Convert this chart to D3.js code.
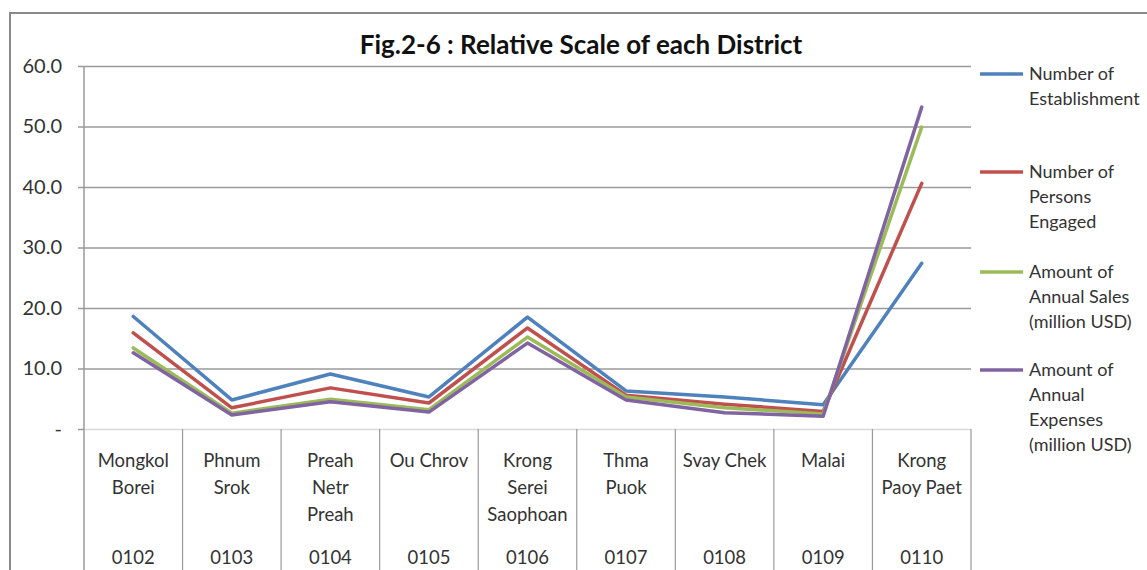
<!DOCTYPE html>
<html>
<head>
<meta charset="utf-8">
<script src="https://cdn.jsdelivr.net/npm/d3@7"></script>
<style>
  body { margin: 0; background: #fff; }
  text { font-family: Lato, "Open Sans", sans-serif; }
</style>
</head>
<body>
<svg id="chart" width="1147" height="570"></svg>
<script>
'use strict';

// district codes and names (name lines as shown under the axis)
var codes = ["0102", "0103", "0104", "0105", "0106", "0107", "0108", "0109", "0110"];
var names = [
  ["Mongkol", "Borei"], ["Phnum", "Srok"], ["Preah", "Netr", "Preah"], ["Ou Chrov"],
  ["Krong", "Serei", "Saophoan"], ["Thma", "Puok"], ["Svay Chek"], ["Malai"], ["Krong", "Paoy Paet"]
];

var establishments = [18.6, 4.8, 9.1, 5.3, 18.5, 6.3, 5.3, 4.0, 27.4];
var persons        = [15.9, 3.5, 6.8, 4.3, 16.7, 5.6, 4.1, 2.9, 40.6];
var sales          = [13.4, 2.6, 4.9, 3.2, 15.2, 5.3, 3.5, 2.5, 49.9];
var expenses       = [12.6, 2.3, 4.5, 2.8, 14.2, 4.8, 2.7, 2.1, 53.2];

var yTicks = [0, 10, 20, 30, 40, 50, 60];

var series = [
  { label: ["Number of", "Establishment"], color: "#4f81bd", values: establishments },
  { label: ["Number of", "Persons", "Engaged"], color: "#c0504d", values: persons },
  { label: ["Amount of", "Annual Sales", "(million USD)"], color: "#9bbb59", values: sales },
  { label: ["Amount of", "Annual", "Expenses", "(million USD)"], color: "#8064a2", values: expenses }
];

var svg = d3.select("#chart");
var plotLeft = 84, plotRight = 971, plotTop = 66, plotBottom = 429;

// outer frame
svg.append("rect")
  .attr("x", 10).attr("y", 13).attr("width", 1160).attr("height", 600)
  .attr("fill", "none").attr("stroke", "#8a8a8a").attr("stroke-width", 2);

svg.append("text")
  .attr("x", 581).attr("y", 54)
  .attr("text-anchor", "middle")
  .attr("font-size", 26).attr("font-weight", "bold").attr("fill", "#111")
  .text("Fig.2-6 : Relative Scale of each District");

var x = d3.scaleBand().domain(codes).range([plotLeft, plotRight]).padding(0);
var y = d3.scaleLinear().domain([0, 60]).range([plotBottom, plotTop]);
var cx = function(i) { return x(codes[i]) + x.bandwidth() / 2; };

// gridlines
svg.append("g")
  .attr("transform", `translate(${plotLeft},0)`)
  .call(d3.axisLeft(y).tickValues(yTicks).tickSize(-(plotRight - plotLeft)).tickFormat(""))
  .call(function(g) {
    g.select(".domain").remove();
    g.selectAll("line").attr("stroke", d => d === 0 ? "#d9d9d9" : "#9a9a9a").attr("stroke-width", 1.5);
  });

// tick marks + labels
svg.append("g")
  .attr("transform", `translate(${plotLeft},0)`)
  .call(d3.axisLeft(y).tickValues(yTicks).tickSize(6).tickPadding(16)
    .tickFormat(d => d === 0 ? "-" : d3.format(".1f")(d)))
  .call(function(g) {
    g.select(".domain").remove();
    g.selectAll("line").attr("stroke", "#9a9a9a").attr("stroke-width", 1.5);
    g.selectAll("text").attr("font-size", 20).attr("fill", "#333")
      .attr("font-family", "Lato, 'Open Sans', sans-serif");
  });

// vertical axis line
svg.append("line")
  .attr("x1", plotLeft).attr("x2", plotLeft).attr("y1", plotTop).attr("y2", 570)
  .attr("stroke", "#9a9a9a").attr("stroke-width", 1.5);

// category dividers
svg.append("g").selectAll("line")
  .data(codes)
  .join("line")
  .attr("x1", d => x(d) + x.bandwidth())
  .attr("x2", d => x(d) + x.bandwidth())
  .attr("y1", plotBottom).attr("y2", 570)
  .attr("stroke", "#9a9a9a").attr("stroke-width", 1.2);

// category labels
var cat = svg.append("g").selectAll("g").data(codes).join("g");
cat.each(function(code, i) {
  var g = d3.select(this);
  names[i].forEach(function(line, j) {
    g.append("text")
      .attr("x", cx(i)).attr("y", 467 + j * 27)
      .attr("text-anchor", "middle").attr("font-size", 18.5).attr("fill", "#333")
      .text(line);
  });
  g.append("text")
    .attr("x", cx(i)).attr("y", 564)
    .attr("text-anchor", "middle").attr("font-size", 18.5).attr("fill", "#333")
    .text(code);
});

// lines
var line = d3.line().x((d, i) => cx(i)).y(d => y(d));
svg.append("g").selectAll("path")
  .data(series)
  .join("path")
  .attr("d", d => line(d.values))
  .attr("fill", "none")
  .attr("stroke", d => d.color)
  .attr("stroke-width", 3.5)
  .attr("stroke-linejoin", "round")
  .attr("stroke-linecap", "round");

// legend
var legendY = [74, 172, 272, 370];
var lg = svg.append("g").selectAll("g").data(series).join("g")
  .attr("transform", (d, i) => `translate(980,${legendY[i]})`);
lg.append("line")
  .attr("x1", 0).attr("x2", 43).attr("y1", 0).attr("y2", 0)
  .attr("stroke", d => d.color).attr("stroke-width", 3.5);
lg.each(function(d) {
  var g = d3.select(this);
  d.label.forEach(function(t, j) {
    g.append("text")
      .attr("x", 49).attr("y", 6 + j * 25)
      .attr("font-size", 18).attr("fill", "#333")
      .text(t);
  });
});
</script>
</body>
</html>
